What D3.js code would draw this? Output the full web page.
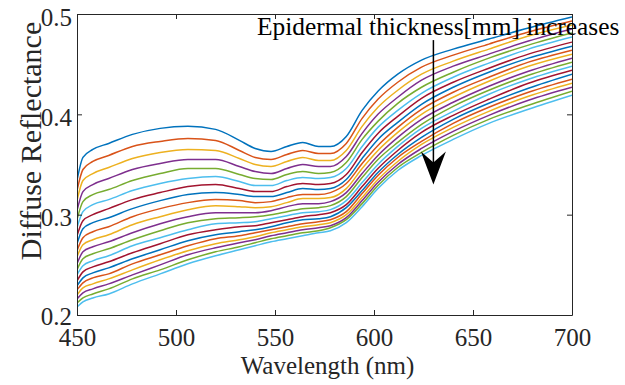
<!DOCTYPE html>
<html><head><meta charset="utf-8">
<script src="https://cdn.jsdelivr.net/npm/d3@7"></script>
<style>body{margin:0;background:#fff}svg{display:block}</style>
</head><body>
<script>
const wavelengths = [450,453,458,466,478,492,506,520,532,540,548,556,564,572,578,586,594,602,612,624,640,658,678,700];
const s0  = [.334,.357,.365,.371,.380,.386,.388,.385,.374,.366,.363,.368,.372,.368,.368,.378,.404,.423,.440,.454,.465,.475,.486,.497];
const s1  = [.324,.345,.353,.359,.368,.373,.376,.374,.364,.357,.355,.360,.364,.361,.361,.371,.396,.415,.432,.447,.459,.470,.482,.493];
const s2  = [.314,.334,.341,.347,.356,.362,.365,.364,.356,.350,.348,.353,.357,.354,.354,.364,.388,.407,.424,.440,.453,.465,.478,.489];
const s3  = [.304,.323,.330,.336,.345,.351,.355,.355,.348,.343,.341,.346,.350,.348,.348,.358,.381,.400,.417,.434,.448,.460,.473,.485];
const s4  = [.295,.313,.320,.325,.334,.341,.346,.346,.340,.336,.335,.340,.343,.341,.342,.352,.375,.393,.411,.427,.442,.456,.469,.481];
const s5  = [.287,.303,.310,.315,.324,.331,.336,.338,.333,.329,.329,.334,.337,.336,.337,.346,.368,.387,.404,.421,.437,.451,.465,.477];
const s6  = [.279,.294,.300,.306,.315,.322,.328,.330,.326,.323,.323,.328,.331,.330,.331,.340,.362,.381,.398,.416,.432,.446,.460,.472];
const s7  = [.271,.286,.292,.297,.306,.314,.320,.322,.320,.318,.318,.322,.326,.325,.326,.335,.356,.375,.392,.410,.427,.442,.456,.468];
const s8  = [.264,.277,.283,.288,.298,.306,.312,.315,.314,.312,.313,.317,.320,.320,.322,.331,.351,.369,.387,.405,.422,.437,.452,.464];
const s9  = [.258,.270,.275,.280,.290,.298,.305,.309,.308,.307,.308,.312,.316,.316,.317,.326,.346,.364,.382,.400,.417,.433,.448,.460];
const s10 = [.251,.263,.268,.273,.282,.291,.298,.302,.302,.302,.304,.308,.311,.311,.313,.322,.341,.359,.377,.395,.412,.428,.443,.456];
const s11 = [.245,.256,.261,.266,.275,.284,.292,.296,.297,.298,.300,.303,.306,.307,.309,.318,.337,.355,.372,.390,.408,.424,.439,.452];
const s12 = [.240,.249,.254,.259,.269,.277,.285,.291,.292,.293,.296,.299,.302,.303,.305,.314,.332,.350,.368,.386,.403,.420,.435,.448];
const s13 = [.234,.243,.248,.253,.262,.271,.280,.285,.288,.289,.292,.295,.298,.300,.302,.310,.328,.346,.364,.382,.399,.415,.431,.444];
const s14 = [.229,.237,.242,.247,.256,.265,.274,.280,.283,.285,.288,.292,.295,.296,.298,.307,.324,.342,.360,.377,.395,.411,.426,.440];
const s15 = [.225,.232,.237,.241,.251,.260,.269,.276,.279,.282,.285,.288,.291,.293,.295,.303,.321,.339,.357,.373,.391,.407,.422,.435];
const s16 = [.220,.227,.231,.236,.245,.255,.264,.271,.275,.278,.282,.285,.288,.290,.292,.300,.317,.335,.353,.370,.387,.403,.418,.431];
const s17 = [.216,.222,.226,.231,.240,.250,.260,.267,.272,.275,.279,.282,.285,.287,.289,.297,.314,.332,.350,.366,.383,.399,.414,.427];
const s18 = [.212,.217,.221,.226,.236,.245,.255,.263,.268,.272,.276,.279,.282,.284,.287,.295,.311,.329,.347,.362,.379,.395,.409,.423];
const s19 = [.208,.213,.217,.221,.231,.241,.251,.259,.265,.269,.273,.276,.279,.282,.284,.292,.308,.326,.344,.359,.375,.391,.405,.419];
const series = [s0,s1,s2,s3,s4,s5,s6,s7,s8,s9,s10,s11,s12,s13,s14,s15,s16,s17,s18,s19];
const colors = ["#0072BD","#D95319","#EDB120","#7E2F8E","#77AC30","#4DBEEE","#A2142F"];
const xTicks = [450,500,550,600,650,700];
const yTicks = [0.2,0.3,0.4,0.5];
const yTickLabels = ["0.2","0.3","0.4","0.5"];
const xLabel = "Wavelength (nm)";
const yLabel = "Diffuse Reflectance";
const annotation = "Epidermal thickness[mm] increases";

const W = 625, H = 385;
const L = 77, R = 572, T = 14, B = 315;
const font = "Liberation Serif, Times New Roman, serif";
const axisColor = "#262626";

const svg = d3.select("body").append("svg").attr("width", W).attr("height", H);
const x = d3.scaleLinear().domain([450,700]).range([L,R]);
const y = d3.scaleLinear().domain([0.2,0.5]).range([B,T]);

svg.append("defs").append("clipPath").attr("id","clip")
  .append("rect").attr("x",L).attr("y",T).attr("width",R-L).attr("height",B-T);

const line = d3.line().x(d=>x(d[0])).y(d=>y(d[1])).curve(d3.curveMonotoneX);
const g = svg.append("g").attr("clip-path","url(#clip)");
series.forEach((s,i)=>{
  g.append("path")
    .attr("d", line(wavelengths.map((w,j)=>[w,s[j]])))
    .attr("fill","none").attr("stroke",colors[i%colors.length])
    .attr("stroke-width",1.5).attr("stroke-linejoin","round");
});

// axes (inward ticks)
const tl = 5;
const bottomAxis = d3.axisBottom(x).tickValues(xTicks).tickSizeInner(-tl).tickSizeOuter(0);
const topAxis = d3.axisTop(x).tickValues(xTicks).tickSizeInner(-tl).tickSizeOuter(0).tickFormat("");
const leftAxis = d3.axisLeft(y).tickValues(yTicks).tickSizeInner(-tl).tickSizeOuter(0).tickFormat((d,i)=>yTickLabels[i]);
const rightAxis = d3.axisRight(y).tickValues(yTicks).tickSizeInner(-tl).tickSizeOuter(0).tickFormat("");

function style(sel){
  sel.attr("font-family",font).attr("font-size",25);
  sel.selectAll("path").attr("stroke",axisColor).attr("stroke-width",1);
  sel.selectAll("line").attr("stroke",axisColor).attr("stroke-width",1);
  sel.selectAll("text").attr("fill",axisColor).attr("font-family",font).attr("font-size",25);
}
const gb = svg.append("g").attr("transform",`translate(0,${B})`).call(bottomAxis); style(gb);
gb.selectAll("text").attr("dy",null).attr("y",31);
const gt = svg.append("g").attr("transform",`translate(0,${T})`).call(topAxis); style(gt);
const gl = svg.append("g").attr("transform",`translate(${L},0)`).call(leftAxis); style(gl);
gl.selectAll("text").attr("dy",null).attr("y",(d,i)=> i===0 ? 9 : 11).attr("x",-5);
const gr = svg.append("g").attr("transform",`translate(${R},0)`).call(rightAxis); style(gr);

// labels
svg.append("text").attr("x",(L+R)/2+3).attr("y",374).attr("text-anchor","middle")
  .attr("font-family",font).attr("font-size",25).attr("fill",axisColor).text(xLabel);
svg.append("text").attr("transform","translate(41,141) rotate(-90)").attr("text-anchor","middle")
  .attr("font-family",font).attr("font-size",30).attr("fill",axisColor).text(yLabel);

// annotation + arrow
svg.append("text").attr("x",257).attr("y",35)
  .attr("font-family",font).attr("font-size",25.4).attr("fill","#000").text(annotation);
const ax = x(630);
svg.append("line").attr("x1",ax).attr("x2",ax).attr("y1",y(0.474)).attr("y2",y(0.35))
  .attr("stroke","#000").attr("stroke-width",1.5);
svg.append("path")
  .attr("d",`M${ax},${y(0.330)} L${ax-12.5},${y(0.363)} L${ax},${y(0.352)} L${ax+12.5},${y(0.363)} Z`)
  .attr("fill","#000");
</script>
</body></html>
